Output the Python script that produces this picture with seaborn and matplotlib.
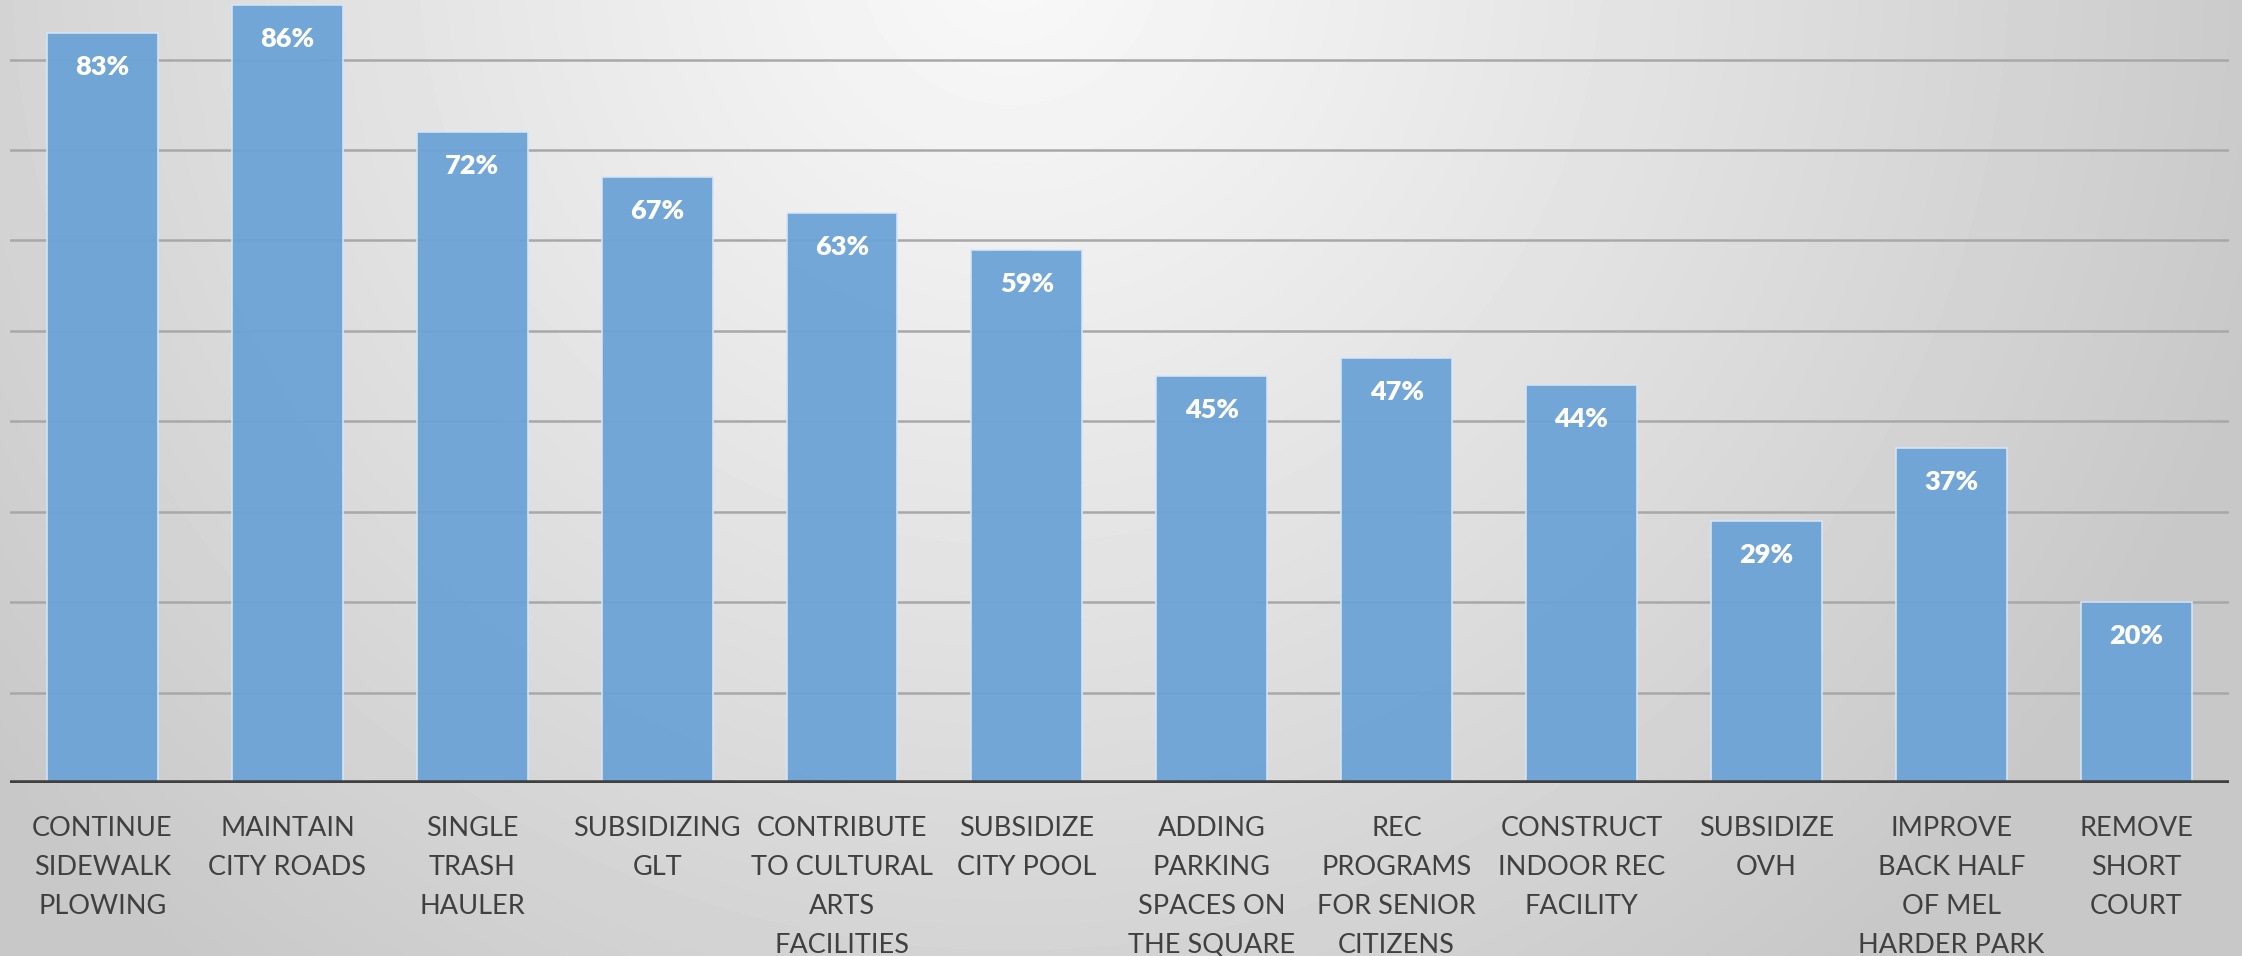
import numpy as np
import pandas as pd
import matplotlib
matplotlib.use("Agg")
import matplotlib.pyplot as plt
import seaborn as sns

# Data
categories = [
    "CONTINUE\nSIDEWALK\nPLOWING",
    "MAINTAIN\nCITY ROADS",
    "SINGLE\nTRASH\nHAULER",
    "SUBSIDIZING\nGLT",
    "CONTRIBUTE\nTO CULTURAL\nARTS\nFACILITIES",
    "SUBSIDIZE\nCITY POOL",
    "ADDING\nPARKING\nSPACES ON\nTHE SQUARE",
    "REC\nPROGRAMS\nFOR SENIOR\nCITIZENS",
    "CONSTRUCT\nINDOOR REC\nFACILITY",
    "SUBSIDIZE\nOVH",
    "IMPROVE\nBACK HALF\nOF MEL\nHARDER PARK",
    "REMOVE\nSHORT\nCOURT",
]
support = [0.83, 0.86, 0.72, 0.67, 0.63, 0.59, 0.45, 0.47, 0.44, 0.29, 0.37, 0.20]
grid_levels = [0.1, 0.2, 0.3, 0.4, 0.5, 0.6, 0.7, 0.8]

df = pd.DataFrame({"item": categories, "share": support})

sns.set_theme(style="white")
plt.rcParams["font.family"] = ["Lato", "DejaVu Sans"]

fig = plt.figure(figsize=(22.42, 9.56), dpi=100)

# radial gradient background
bg = fig.add_axes([0, 0, 1, 1], zorder=-10)
h, w = 300, 700
yy, xx = np.mgrid[0:h, 0:w]
dx = (xx / w - 0.45) * 2.34
dy = (yy / h + 0.05) * 1.0
r = np.sqrt(dx ** 2 + dy ** 2)
shade = 0.975 - 0.19 * np.clip(r / 1.35, 0, 1) ** 1.1
bg.imshow(shade, cmap="gray", vmin=0, vmax=1, aspect="auto",
          extent=[0, 1, 0, 1], origin="upper", interpolation="bilinear")
bg.axis("off")

ax = fig.add_axes([0.0045, 0.181, 0.9895, 0.819])
ax.patch.set_alpha(0)

sns.barplot(data=df, x="item", y="share", color="#6ca3d6", saturation=1,
            width=0.6, edgecolor="#d6e6f5", linewidth=1.2, alpha=0.95,
            ax=ax, zorder=3)

for lv in grid_levels:
    ax.axhline(lv, color="#a8a8a8", linewidth=1.8, zorder=1)
ax.axhline(0, color="#404040", linewidth=4, zorder=5)

for p, v in zip(ax.patches, support):
    ax.annotate(f"{v:.0%}", (p.get_x() + p.get_width() / 2, p.get_height()),
                xytext=(0, -24.5), textcoords="offset points",
                ha="center", va="center", color="white",
                fontsize=19.5, fontweight="heavy", zorder=6)

ax.set_ylim(0, 0.866)
ax.set_xlim(-0.5, len(categories) - 0.5)
ax.set_yticks([])
ax.set_xlabel("")
ax.set_ylabel("")
ax.tick_params(axis="x", length=0, pad=24, labelsize=19.5, labelcolor="#404040")
for t in ax.get_xticklabels():
    t.set_linespacing(1.7)
sns.despine(ax=ax, left=True, bottom=True)

fig.savefig("out.png", dpi=100)
